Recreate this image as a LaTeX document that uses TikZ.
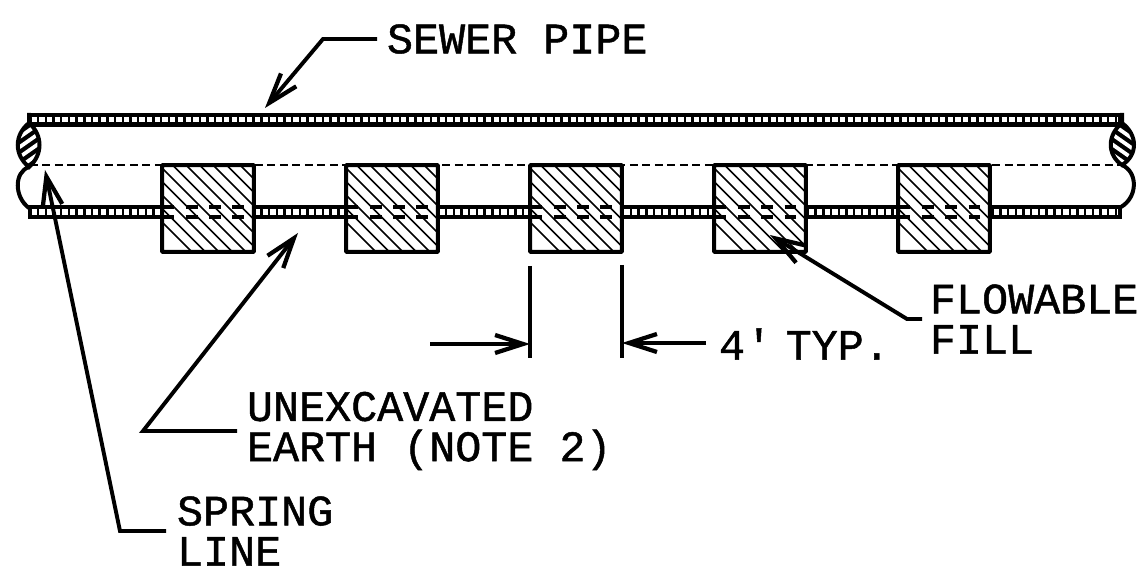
\documentclass[tikz,border=0pt]{standalone}
\usepackage{fontspec}
\setmainfont[FakeBold=1.1]{Liberation Mono}
\usetikzlibrary{arrows.meta}
\tikzset{
  x=0.02cm,y=-0.02cm,
  pipewall/.style={fill=black,draw=none,inner sep=0pt,outer sep=0pt,minimum width=21.88cm,minimum height=0.28cm,
    path picture={\draw[white,line width=0.115cm,dash pattern=on 0.106cm off 0.048cm,dash phase=0cm]
      ([xshift=0.07cm,yshift=0.01cm]path picture bounding box.west) -- ([xshift=-0.07cm,yshift=0.01cm]path picture bounding box.east);}},
  fillblock/.style={draw=black,fill=white,line width=0.08cm,inner sep=0pt,outer sep=0pt,rounded corners=0.02cm,
    minimum width=1.84cm,minimum height=1.74cm,
    path picture={\foreach \k in {-2,...,11}{
      \draw[line width=0.03cm] ([xshift=\k*0.27cm-0.6cm]path picture bounding box.north west) -- ++(2.2cm,-2.2cm);}
      \foreach \j in {0,1}{\draw[line width=0.08cm,dash pattern=on 0.24cm off 0.23cm]
        ([yshift={-0.84cm-\j*0.2cm}]path picture bounding box.north west) -- ++(1.84cm,0);}}},
  lbl/.style={anchor=west,align=left,inner sep=0pt,outer sep=0pt,font=\fontsize{24.7pt}{22.9pt}\selectfont},
  leader/.style={line width=0.078cm,line join=miter,-{Straight Barb[length=0.6cm,width=0.4cm,line width=0.085cm]}},
  dimline/.style={line width=0.075cm,-{Straight Barb[length=0.56cm,width=0.36cm,line width=0.085cm]}},
  witness/.style={line width=0.065cm},
  lens/.style={line width=0.08cm},
  centre/.style={line width=0.03cm,dash pattern=on 0.16cm off 0.09cm}
}
\begin{document}
\begin{tikzpicture}
\useasboundingbox (0,0) rectangle (1144,574);
\fill[white] (0,0) rectangle (1144,574);
% pipe walls
\node[pipewall] (ptop) at (575,120) {};
\node[pipewall] (pbot) at (575,212.5) {};
% centre line
\coordinate (cl) at (30,165);
\coordinate (cr) at (1120,165);
\draw[centre] (cl) -- (cr);
% blocks
\node[fillblock] (b1) at (208,208.5) {};
\node[fillblock] (b2) at (392,208.5) {};
\node[fillblock] (b3) at (576,208.5) {};
\node[fillblock] (b4) at (760,208.5) {};
\node[fillblock] (b5) at (944,208.5) {};
% left break
\begin{scope}
  \clip (29,123) .. controls (14,135) and (14,155) .. (29,167) .. controls (43,155) and (43,135) .. (29,123);
  \fill[black] (10,120) rectangle (50,170);
  \foreach \d in {0,10,20,30,40}{\draw[white,line width=0.075cm] (4,138+\d) -- (54,103+\d);}
\end{scope}
\draw[lens] (29,113) -- (29,123) .. controls (14,135) and (14,155) .. (29,167) .. controls (43,155) and (43,135) .. (29,123);
\draw[lens] (29,167) .. controls (14,172) and (14,197) .. (29,208);
% right break
\begin{scope}
  \clip (1122,123) .. controls (1137,135) and (1137,155) .. (1122,165) .. controls (1108,155) and (1108,135) .. (1122,123);
  \fill[black] (1100,120) rectangle (1140,170);
  \foreach \d in {0,10,20,30,40}{\draw[white,line width=0.075cm] (1096,103+\d) -- (1146,138+\d);}
\end{scope}
\draw[lens] (1122,113) -- (1122,123) .. controls (1138,135) and (1138,155) .. (1122,165) .. controls (1107,155) and (1107,135) .. (1122,123);
\draw[lens] (1122,165) .. controls (1138,172) and (1138,197) .. (1121,207);
% labels
\node[lbl] (sewer) at (387,39) {SEWER PIPE};
\node[lbl] (flow) at (930,319) {FLOWABLE\\FILL};
\node[lbl] (typ) at (719,344) {4\kern0.5pt′\kern-7pt{} TYP.};
\node[lbl] (earth) at (247,431) {UNEXCAVATED\\EARTH (NOTE 2)};
\node[lbl] (spring) at (177,531) {SPRING\\LINE};
% leaders
\coordinate (sewerbend) at (323,39);
\coordinate (sewertip) at (265,108);
\draw[leader] ([xshift=-0.2cm]sewer.west) -- (sewerbend) -- (sewertip);
\coordinate (flowbend) at (907,319);
\coordinate (flowtip) at (770,235);
\draw[leader] ([xshift=-0.16cm]flow.west) -- (flowbend) -- (flowtip);
\coordinate (earthbend) at (143,431);
\coordinate (earthtip) at (298,233);
\draw[leader] ([xshift=-0.2cm]earth.west) -- (earthbend) -- (earthtip);
\coordinate (springbend) at (120,531);
\coordinate (springtip) at (45,170);
\draw[leader] ([xshift=-0.22cm]spring.west) -- (springbend) -- (springtip);
% dimension
\coordinate (wl1) at (530,266);
\coordinate (wl2) at (530,358);
\coordinate (wr1) at (622,265);
\coordinate (wr2) at (622,358);
\draw[witness] (wl1) -- (wl2);
\draw[witness] (wr1) -- (wr2);
\coordinate (dl0) at (430,344);
\coordinate (dl1) at (530,344);
\coordinate (dr0) at (706,343);
\coordinate (dr1) at (622,343);
\draw[dimline] (dl0) -- (dl1);
\draw[dimline] (dr0) -- (dr1);
\end{tikzpicture}
\end{document}
